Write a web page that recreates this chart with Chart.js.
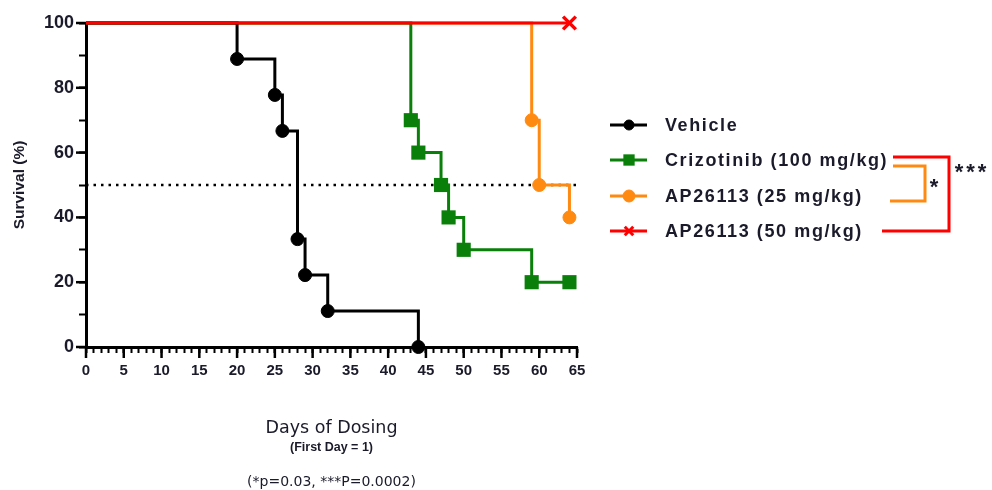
<!DOCTYPE html>
<html>
<head>
<meta charset="utf-8">
<script src="https://cdn.jsdelivr.net/npm/chart.js@4/dist/chart.umd.min.js"></script>
<style>
  html, body { margin: 0; padding: 0; background: #fff; }
  #wrap { width: 992px; height: 490px; position: relative; }
</style>
</head>
<body>
<div id="wrap"><canvas id="chart"></canvas></div>
<script>
// Kaplan-Meier steps
const vehicleDays = [0, 20, 25, 26, 28, 29, 32, 44];
const vehicleSurvival = [100, 88.9, 77.8, 66.7, 33.3, 22.2, 11.1, 0];
const crizotinibDays = [0, 43, 44, 47, 48, 50, 59, 64];
const crizotinibSurvival = [100, 70, 60, 50, 40, 30, 20, 20];
const ap25Days = [0, 59, 60, 64];
const ap25Survival = [100, 70, 50, 40];
const ap50Days = [0, 64];
const ap50Survival = [100, 100];
const medianDays = [0, 65];
const medianSurvival = [50, 50];

const seriesLabels = ["Vehicle", "Crizotinib (100 mg/kg)", "AP26113 (25 mg/kg)", "AP26113 (50 mg/kg)"];
const seriesColors = ["#000000", "#0a800a", "#ff8a12", "#ff0000"];
const xMajorTicks = [0, 5, 10, 15, 20, 25, 30, 35, 40, 45, 50, 55, 60, 65];
const yMajorTicks = [0, 20, 40, 60, 80, 100];
const xTitle = "Days of Dosing";
const xSubTitle = "(First Day = 1)";
const footnote = "(*p=0.03, ***P=0.0002)";

function toPoints(days, values) {
  return days.map((d, i) => ({ x: d, y: values[i] }));
}

function kmDataset(idx, days, values, style, radius, borderW, order) {
  return {
    label: seriesLabels[idx],
    data: toPoints(days, values),
    order: order,
    borderColor: seriesColors[idx],
    backgroundColor: seriesColors[idx],
    pointBorderColor: seriesColors[idx],
    pointBackgroundColor: seriesColors[idx],
    borderWidth: 3,
    stepped: "before",
    pointStyle: style,
    pointRadius: (ctx) => (ctx.dataIndex === 0 ? 0 : radius),
    pointHoverRadius: 0,
    pointBorderWidth: borderW,
    clip: false,
    fill: false,
  };
}

const markerStyles = [
  { style: "circle", border: 1, legendRadius: 5 },
  { style: "rect", border: 0, legendRadius: 8 },
  { style: "circle", border: 1, legendRadius: 6 },
  { style: "crossRot", border: 3, legendRadius: 6 },
];

const sidePlugin = {
  id: "side",
  afterDraw(chart) {
    const ctx = chart.ctx;
    const xs = chart.scales.x;
    const ys = chart.scales.y;
    const area = chart.chartArea;
    ctx.save();

    // longer major ticks
    ctx.strokeStyle = "#000";
    ctx.lineWidth = 2.5;
    xMajorTicks.forEach((t) => {
      const px = xs.getPixelForValue(t);
      ctx.beginPath();
      ctx.moveTo(px, area.bottom);
      ctx.lineTo(px, area.bottom + 11);
      ctx.stroke();
    });
    yMajorTicks.forEach((t) => {
      const py = ys.getPixelForValue(t);
      ctx.beginPath();
      ctx.moveTo(area.left, py);
      ctx.lineTo(area.left - 10, py);
      ctx.stroke();
    });

    // axis titles below
    const cx = (area.left + area.right) / 2;
    ctx.fillStyle = "#1a1a2a";
    ctx.textAlign = "center";
    ctx.textBaseline = "middle";
    ctx.font = "17.5px 'DejaVu Sans'";
    ctx.fillText(xTitle, cx, 428);
    ctx.font = "bold 12.5px 'Liberation Sans'";
    ctx.fillText(xSubTitle, cx, 448);
    ctx.font = "14px 'DejaVu Sans'";
    ctx.fillText(footnote, cx, 482);

    // legend
    const rowsY = [125, 160, 196, 231];
    seriesLabels.forEach((label, i) => {
      const y = rowsY[i];
      ctx.strokeStyle = seriesColors[i];
      ctx.lineWidth = 3;
      ctx.beginPath();
      ctx.moveTo(610, y);
      ctx.lineTo(647, y);
      ctx.stroke();
      ctx.fillStyle = seriesColors[i];
      ctx.strokeStyle = seriesColors[i];
      ctx.lineWidth = markerStyles[i].border || 1;
      Chart.helpers.drawPoint(ctx, {
        pointStyle: markerStyles[i].style,
        radius: markerStyles[i].legendRadius,
        rotation: 0,
        borderWidth: markerStyles[i].border,
      }, 629, y);
      ctx.fillStyle = "#1a1a2a";
      ctx.textAlign = "left";
      ctx.font = "bold 18px 'Liberation Sans'";
      ctx.letterSpacing = "1.6px";
      ctx.fillText(label, 665, y + 1);
      ctx.letterSpacing = "0px";
    });

    // significance brackets
    ctx.lineWidth = 3;
    ctx.strokeStyle = seriesColors[3];
    ctx.beginPath();
    ctx.moveTo(893, 157);
    ctx.lineTo(949, 157);
    ctx.lineTo(949, 231);
    ctx.lineTo(882, 231);
    ctx.stroke();
    ctx.strokeStyle = seriesColors[2];
    ctx.beginPath();
    ctx.moveTo(893, 166);
    ctx.lineTo(925, 166);
    ctx.lineTo(925, 201);
    ctx.lineTo(890, 201);
    ctx.stroke();
    ctx.fillStyle = "#1a1a2a";
    ctx.font = "bold 22px 'Liberation Sans'";
    ctx.textAlign = "center";
    ctx.fillText("*", 934, 188);
    ctx.letterSpacing = "3px";
    ctx.fillText("***", 972, 173);
    ctx.letterSpacing = "0px";

    ctx.restore();
  },
};

new Chart(document.getElementById("chart"), {
  type: "line",
  data: {
    datasets: [
      {
        label: "median",
        data: toPoints(medianDays, medianSurvival),
        order: 5,
        borderColor: "#000",
        borderWidth: 2.5,
        borderDash: [2.5, 5],
        pointRadius: 0,
        fill: false,
      },
      kmDataset(0, vehicleDays, vehicleSurvival, "circle", 6.5, 1, 1),
      kmDataset(1, crizotinibDays, crizotinibSurvival, "rect", 10, 0, 2),
      kmDataset(2, ap25Days, ap25Survival, "circle", 6.5, 1, 3),
      kmDataset(3, ap50Days, ap50Survival, "crossRot", 9, 3.5, 0),
    ],
  },
  options: {
    responsive: true,
    maintainAspectRatio: false,
    animation: false,
    events: [],
    layout: { padding: { top: 23, right: 415, bottom: 103, left: 0 } },
    plugins: { legend: { display: false }, tooltip: { enabled: false } },
    scales: {
      x: {
        type: "linear",
        min: 0,
        max: 65,
        afterFit: (scale) => { scale.height = 40; },
        border: { color: "#000", width: 3 },
        grid: { drawOnChartArea: false, tickLength: 6, tickColor: "#000", tickWidth: 2 },
        ticks: {
          stepSize: 1,
          autoSkip: false,
          maxRotation: 0,
          padding: 9,
          color: "#1a1a2a",
          font: { family: "'Liberation Sans'", size: 15, weight: "bold" },
          callback: (v) => (v % 5 === 0 ? v : ""),
        },
      },
      y: {
        min: 0,
        max: 100,
        afterFit: (scale) => { scale.width = 86; },
        border: { color: "#000", width: 3 },
        grid: { drawOnChartArea: false, tickLength: 7, tickColor: "#000", tickWidth: 2 },
        ticks: {
          stepSize: 10,
          padding: 5,
          color: "#1a1a2a",
          font: { family: "'Liberation Sans'", size: 18, weight: "bold" },
          callback: (v) => (v % 20 === 0 ? v : ""),
        },
        title: {
          display: true,
          text: "Survival (%)",
          color: "#1a1a2a",
          padding: { top: 10, bottom: 0 },
          font: { family: "'Liberation Sans'", size: 15.5, weight: "bold" },
        },
      },
    },
  },
  plugins: [sidePlugin],
});
</script>
</body>
</html>
